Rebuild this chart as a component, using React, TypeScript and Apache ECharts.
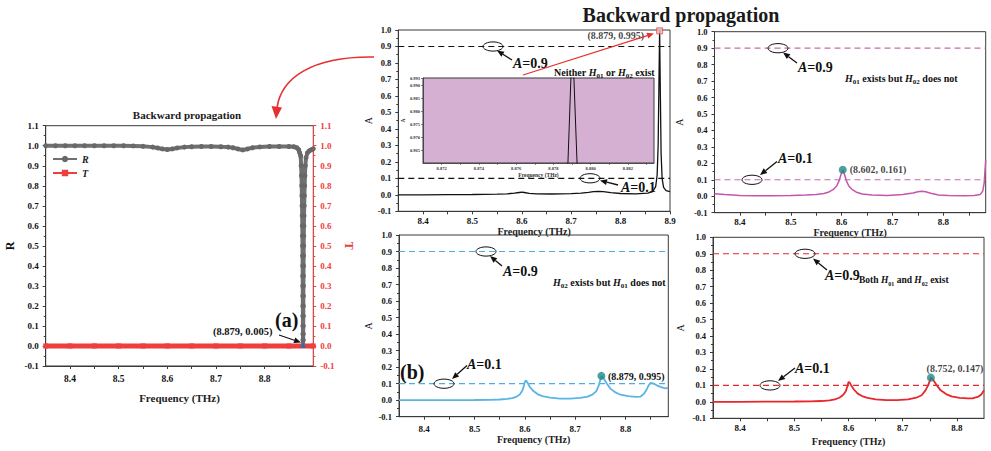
import React, { useEffect, useRef } from 'react';
import * as echarts from 'echarts';

const SERIF = "'Liberation Serif', 'Times New Roman', serif";
const AXIS = '#3a3a3a';
const INK = '#111111';

// (a) reflection R and transmission T, backward propagation
const rCurve: [number, number][] = [
  [8.35, 1.0], [8.37, 1.0], [8.39, 1.0], [8.41, 1.0], [8.43, 1.0], [8.45, 1.0], [8.47, 1.0],
  [8.49, 1.0], [8.51, 1.0], [8.53, 0.999], [8.55, 0.997], [8.57, 0.993], [8.58, 0.989],
  [8.59, 0.984], [8.6, 0.981], [8.61, 0.984], [8.62, 0.989], [8.635, 0.993], [8.65, 0.995],
  [8.67, 0.996], [8.69, 0.996], [8.71, 0.995], [8.725, 0.993], [8.735, 0.99], [8.745, 0.984],
  [8.755, 0.979], [8.765, 0.984], [8.775, 0.99], [8.79, 0.994], [8.81, 0.996], [8.83, 0.996],
  [8.85, 0.996], [8.86, 0.995], [8.866, 0.99], [8.87, 0.98], [8.872, 0.965], [8.874, 0.95],
  [8.875, 0.9], [8.8757, 0.85], [8.8762, 0.8], [8.8766, 0.75], [8.8769, 0.7], [8.8772, 0.65],
  [8.8774, 0.6], [8.8776, 0.55], [8.8778, 0.5], [8.8779, 0.45], [8.8781, 0.4], [8.8782, 0.35],
  [8.8783, 0.3], [8.8784, 0.25], [8.8785, 0.2], [8.8786, 0.15], [8.8787, 0.1], [8.8788, 0.06],
  [8.8789, 0.03], [8.879, 0.005], [8.8791, 0.03], [8.8792, 0.06], [8.8793, 0.1], [8.8794, 0.15],
  [8.8795, 0.2], [8.8796, 0.25], [8.8797, 0.3], [8.8798, 0.35], [8.88, 0.4], [8.8801, 0.45],
  [8.8803, 0.5], [8.8805, 0.55], [8.8807, 0.6], [8.881, 0.65], [8.8813, 0.7], [8.8817, 0.75],
  [8.8822, 0.8], [8.8828, 0.85], [8.8836, 0.9], [8.885, 0.94], [8.888, 0.965], [8.892, 0.975],
  [8.896, 0.98], [8.9, 0.985],
];
const tCurve: [number, number][] = [
  [8.35, 0], [8.4, 0], [8.45, 0], [8.5, 0], [8.55, 0], [8.6, 0], [8.65, 0], [8.7, 0],
  [8.75, 0], [8.8, 0], [8.85, 0], [8.9, 0],
];
const rMin: [number, number] = [8.879, 0.005];

// absorption A, neither H01 nor H02
const neitherCurve: [number, number][] = [
  [8.35, 0.0], [8.4, 0.0], [8.45, 0.001], [8.5, 0.002], [8.55, 0.004], [8.57, 0.006],
  [8.585, 0.01], [8.595, 0.014], [8.6, 0.016], [8.605, 0.014], [8.615, 0.009], [8.63, 0.006],
  [8.66, 0.005], [8.7, 0.007], [8.72, 0.01], [8.735, 0.015], [8.745, 0.019], [8.755, 0.021],
  [8.765, 0.019], [8.78, 0.013], [8.8, 0.008], [8.83, 0.006], [8.855, 0.01], [8.865, 0.02],
  [8.871, 0.05], [8.874, 0.12], [8.876, 0.3], [8.8775, 0.65], [8.879, 0.995], [8.8805, 0.6],
  [8.882, 0.25], [8.884, 0.1], [8.887, 0.045], [8.892, 0.025], [8.9, 0.02],
];
const neitherPeak: [number, number] = [8.879, 0.995];
// zoomed view around the absorption peak
const insetCurve: [number, number][] = [
  [8.8787, 0.955], [8.87878, 0.96], [8.87894, 0.993], [8.87902, 0.996], [8.8791, 0.993],
  [8.87927, 0.96], [8.8793, 0.955],
];

// H01 only
const h01Curve: [number, number][] = [
  [8.35, 0.015], [8.37, 0.01], [8.4, 0.005], [8.43, 0.003], [8.46, 0.003], [8.5, 0.004],
  [8.53, 0.007], [8.55, 0.011], [8.565, 0.017], [8.575, 0.026], [8.583, 0.04], [8.59, 0.062],
  [8.595, 0.095], [8.599, 0.135], [8.602, 0.161], [8.605, 0.138], [8.609, 0.095], [8.614, 0.062],
  [8.62, 0.042], [8.628, 0.026], [8.64, 0.014], [8.66, 0.007], [8.69, 0.005], [8.72, 0.01],
  [8.74, 0.02], [8.75, 0.027], [8.757, 0.031], [8.765, 0.027], [8.775, 0.018], [8.79, 0.008],
  [8.81, 0.004], [8.84, 0.003], [8.86, 0.004], [8.872, 0.01], [8.877, 0.03], [8.88, 0.08],
  [8.883, 0.22],
];
const h01Peak: [number, number] = [8.602, 0.161];

// H02 only
const h02Curve: [number, number][] = [
  [8.35, 0.0], [8.4, 0.0], [8.45, 0.0], [8.5, 0.001], [8.53, 0.002], [8.55, 0.004],
  [8.565, 0.008], [8.575, 0.013], [8.583, 0.02], [8.59, 0.035], [8.595, 0.058], [8.598, 0.085],
  [8.6, 0.11], [8.602, 0.12], [8.605, 0.108], [8.61, 0.08], [8.617, 0.055], [8.625, 0.037],
  [8.635, 0.025], [8.65, 0.015], [8.67, 0.01], [8.69, 0.01], [8.71, 0.014], [8.725, 0.022],
  [8.735, 0.035], [8.742, 0.055], [8.747, 0.09], [8.752, 0.147], [8.757, 0.13], [8.763, 0.1],
  [8.77, 0.07], [8.78, 0.047], [8.79, 0.033], [8.805, 0.024], [8.82, 0.02], [8.83, 0.022],
  [8.837, 0.04], [8.842, 0.065], [8.846, 0.09], [8.85, 0.105], [8.856, 0.1], [8.862, 0.09],
  [8.868, 0.082], [8.874, 0.076], [8.88, 0.072], [8.885, 0.075],
];
const h02Peak: [number, number] = [8.752, 0.147];
const h02PeakText = '(8.879, 0.995)';

// both H01 and H02
const bothCurve: [number, number][] = [
  [8.35, 0.0], [8.4, 0.0], [8.45, 0.001], [8.5, 0.002], [8.53, 0.003], [8.55, 0.005],
  [8.565, 0.009], [8.575, 0.015], [8.583, 0.025], [8.59, 0.042], [8.595, 0.065], [8.598, 0.095],
  [8.6, 0.12], [8.602, 0.118], [8.605, 0.1], [8.61, 0.075], [8.617, 0.05], [8.625, 0.035],
  [8.635, 0.024], [8.65, 0.015], [8.67, 0.01], [8.69, 0.01], [8.71, 0.015], [8.725, 0.025],
  [8.735, 0.04], [8.742, 0.07], [8.747, 0.1], [8.752, 0.147], [8.757, 0.13], [8.763, 0.1],
  [8.77, 0.07], [8.78, 0.047], [8.79, 0.033], [8.805, 0.024], [8.82, 0.021], [8.83, 0.022],
  [8.84, 0.032], [8.845, 0.045], [8.85, 0.07],
];
const bothPeak: [number, number] = [8.752, 0.147];

// absorption thresholds drawn as dashed guides in every A panel
const thresholds = [0.9, 0.1];
const freqStart = 8.35;
// right end of the frequency axis in panels (a), neither, H01, H02, both
const freqEnds = [8.9, 8.9, 8.883, 8.885, 8.85];

const isTenth = (v: number) => Math.abs(v * 10 - Math.round(v * 10)) < 1e-6;
const isEvenThousandth = (v: number) => Math.round(v * 1000) % 2 === 0;
const pointText = (p: [number, number]) => `(${p[0].toFixed(3)}, ${p[1].toFixed(3)})`;

type FreqOpts = { fontSize: number; margin: number; nameGap: number; nameSize: number; showMax?: boolean };

// tick labels are drawn through a rich token so that the serif bold face is used
function tickLabel(fontSize: number, color: string, margin: number, formatter: (v: number) => string) {
  return {
    margin, color, fontFamily: SERIF, fontWeight: 'bold', fontSize,
    formatter: (v: number) => {
      const s = formatter(v);
      return s ? `{t|${s}}` : '';
    },
    rich: { t: { fontFamily: SERIF, fontWeight: 'bold', fontSize, color } },
  };
}

function freqAxis(gridIndex: number, o: FreqOpts) {
  return {
    type: 'value', gridIndex, min: freqStart, max: freqEnds[gridIndex], interval: 0.05,
    axisLine: { show: true, onZero: false, lineStyle: { color: AXIS, width: 1 } },
    axisTick: { show: true, length: 3, lineStyle: { color: AXIS } },
    splitLine: { show: false },
    axisLabel: {
      showMinLabel: false, showMaxLabel: !!o.showMax,
      ...tickLabel(o.fontSize, INK, o.margin, (v) => (isTenth(v) ? v.toFixed(1) : '')),
    },
    name: 'Frequency (THz)', nameLocation: 'middle', nameGap: o.nameGap,
    nameTextStyle: { fontFamily: SERIF, fontWeight: 'bold', fontSize: o.nameSize, color: '#222' },
  };
}

function valueAxis(gridIndex: number, max: number, name: string, nameGap: number, color: string, fontSize: number, extra: any = {}) {
  const textColor = color === AXIS ? INK : color;
  return {
    type: 'value', gridIndex, min: -0.1, max, interval: 0.1,
    axisLine: { show: true, onZero: false, lineStyle: { color, width: 1 } },
    axisTick: { show: true, length: 3, lineStyle: { color } },
    minorTick: { show: true, splitNumber: 2, length: 2, lineStyle: { color } },
    splitLine: { show: false }, minorSplitLine: { show: false },
    axisLabel: tickLabel(fontSize, textColor, 7, (v) => v.toFixed(1)),
    name, nameLocation: 'middle', nameGap, nameRotate: 90,
    nameTextStyle: { fontFamily: SERIF, fontSize: name === 'A' ? 10 : 12, fontWeight: name === 'A' ? 'normal' : 'bold', color: textColor },
    ...extra,
  };
}

// one dashed horizontal guide per threshold, spanning the panel's frequency range
function levelSeries(axis: number, color: string) {
  return thresholds.map((level) => ({
    type: 'line', name: `level-${axis}-${level}`, xAxisIndex: axis, yAxisIndex: axis + 1,
    data: [[freqStart, level], [freqEnds[axis], level]],
    showSymbol: false, silent: true, z: 2,
    lineStyle: { type: [6, 4], color, width: 1.1 },
    itemStyle: { color },
  }));
}

function curve(name: string, data: [number, number][], axis: number, color: string, width: number) {
  return {
    type: 'line', name, xAxisIndex: axis, yAxisIndex: axis + 1, data,
    showSymbol: false, clip: true, z: 3,
    lineStyle: { color, width },
    itemStyle: { color },
  };
}

function peakMarker(p: [number, number], axis: number, label: any, symbol = 'circle', size = 8, style: any = { color: '#1d8a87' }) {
  return {
    type: 'scatter', xAxisIndex: axis, yAxisIndex: axis + 1, data: [p], symbol, symbolSize: size, z: 6,
    itemStyle: style,
    label: label
      ? {
          show: true, formatter: () => `{p|${pointText(p)}}`,
          rich: { p: { fontFamily: SERIF, fontWeight: 'bold', fontSize: 10, color: INK } },
          ...label,
        }
      : { show: false },
  };
}

function richStyles(size: number) {
  const base = { fontFamily: SERIF, fontWeight: 'bold', fontSize: size, fill: INK, lineHeight: size + 4, verticalAlign: 'middle' };
  return {
    b: base,
    i: { ...base, fontStyle: 'italic' },
    s: { fontFamily: SERIF, fontWeight: 'bold', fontSize: Math.round(size * 0.65), fill: INK, verticalAlign: 'bottom' },
  };
}

function richText(x: number, y: number, text: string, size: number, align = 'left') {
  return {
    type: 'text', x, y, z: 100,
    style: { text, rich: richStyles(size), align, verticalAlign: 'middle', fill: INK, fontFamily: SERIF, fontSize: size, fontWeight: 'bold' },
  };
}

function plainText(x: number, y: number, text: string, size: number, align = 'left', fill = INK) {
  return {
    type: 'text', x, y, z: 100,
    style: { text, align, verticalAlign: 'middle', fill, fontFamily: SERIF, fontSize: size, fontWeight: 'bold' },
  };
}

function arrow(x1: number, y1: number, x2: number, y2: number, color = INK, width = 1.3, head = 7) {
  const a = Math.atan2(y2 - y1, x2 - x1);
  const bx = x2 - head * Math.cos(a);
  const by = y2 - head * Math.sin(a);
  const w = head * 0.42;
  const px = -Math.sin(a) * w;
  const py = Math.cos(a) * w;
  return [
    { type: 'line', z: 100, shape: { x1, y1, x2: bx, y2: by }, style: { stroke: color, lineWidth: width } },
    { type: 'polygon', z: 100, shape: { points: [[x2, y2], [bx + px, by + py], [bx - px, by - py]] }, style: { fill: color } },
  ];
}

function ring(cx: number, cy: number) {
  return { type: 'ellipse', z: 100, shape: { cx, cy, rx: 10, ry: 4.6 }, style: { fill: 'none', stroke: INK, lineWidth: 1 } };
}

const levelText = (v: number) => `{i|A}{b|=${v.toFixed(1)}}`;

function buildOption() {
  const grids = [
    { left: 45.7, top: 125.7, width: 267.6, height: 240.3 },
    { left: 398.3, top: 30, width: 271.7, height: 181.3 },
    { left: 714.5, top: 31.7, width: 271.2, height: 181 },
    { left: 399, top: 235, width: 269.3, height: 181.7 },
    { left: 713, top: 237.3, width: 271, height: 181 },
  ].map((g) => ({ ...g, show: true, borderColor: AXIS, borderWidth: 1, backgroundColor: 'transparent' }));
  grids.push({ left: 423, top: 78, width: 231, height: 85, show: true, borderColor: AXIS, borderWidth: 1, backgroundColor: '#d5b0d3' } as any);

  const red = '#ee3e3e';
  const rData = rCurve.map(([f, v]) =>
    f === rMin[0] && v === rMin[1]
      ? { value: [f, v], symbol: 'triangle', symbolSize: 6, itemStyle: { color: '#3f66a8' } }
      : [f, v]
  );

  const graphic: any[] = [
    plainText(681, 15, 'Backward propagation', 20, 'center', '#1a1a1a'),
    plainText(187, 115, 'Backward propagation', 11, 'center', '#1a1a1a'),
    // curved pointer from the spectrum panels to panel (a)
    {
      type: 'bezierCurve', z: 100,
      shape: { x1: 374, y1: 57, cpx1: 312, cpy1: 56, cpx2: 281, cpy2: 78, x2: 277, y2: 108 },
      style: { stroke: '#e53030', lineWidth: 1.6, fill: 'none' },
    },
    { type: 'polygon', z: 100, shape: { points: [[276, 119], [271.5, 106], [282, 107.5]] }, style: { fill: '#e53030' } },
    // panel (a)
    plainText(275, 320, '(a)', 20),
    plainText(213, 331, pointText(rMin), 10.5),
    ...arrow(279, 335, 301, 342.5),
    // neither
    ring(493, 46.5), ...arrow(512, 60, 497, 50.5), richText(513, 63, levelText(0.9), 14),
    ring(590, 178.3), ...arrow(618, 185, 600, 180.5), richText(621, 187, levelText(0.1), 14),
    ...arrow(523, 75, 654, 33.5, '#e53030', 1.2, 7),
    richText(554, 72, '{b|Neither }{i|H}{s|01}{b| or }{i|H}{s|02}{b| exist}', 10),
    // H01 only
    ring(778, 48.2), ...arrow(797, 63, 783, 52.5), richText(798, 67, levelText(0.9), 14),
    ring(752, 179.8), ...arrow(777, 161.5, 760, 175), richText(778, 158, levelText(0.1), 14),
    richText(845, 78, '{i|H}{s|01}{b| exists but }{i|H}{s|02}{b| does not}', 10),
    // H02 only
    ring(486, 251.5), ...arrow(502, 266, 490, 256), richText(503, 271, levelText(0.9), 14),
    ring(444, 383.7), ...arrow(467, 365.5, 452, 379), richText(467, 364, levelText(0.1), 14),
    richText(553, 282, '{i|H}{s|02}{b| exists but }{i|H}{s|01}{b| does not}', 10),
    plainText(400, 372, '(b)', 20),
    plainText(608, 376, h02PeakText, 10),
    // both
    ring(805, 253.8), ...arrow(827, 270, 813, 258.5), richText(825, 275, levelText(0.9), 14),
    ring(770, 385.4), ...arrow(795, 368, 778, 381), richText(795, 368, levelText(0.1), 14),
    richText(859, 280, '{b|Both }{i|H}{s|01}{b| and }{i|H}{s|02}{b| exist}', 9.5),
  ];

  return {
    animation: false,
    backgroundColor: '#ffffff',
    textStyle: { fontFamily: SERIF, fontWeight: 'bold' },
    grid: grids,
    legend: {
      data: ['R', 'T'], orient: 'vertical', left: 52, top: 154, itemWidth: 24, itemHeight: 8, itemGap: 4,
      padding: 0, selectedMode: false,
      textStyle: { fontFamily: SERIF, fontStyle: 'italic', fontWeight: 'bold', fontSize: 10, color: '#222' },
    },
    xAxis: [
      freqAxis(0, { fontSize: 9.5, margin: 8, nameGap: 26, nameSize: 11 }),
      freqAxis(1, { fontSize: 9, margin: 5, nameGap: 13, nameSize: 10, showMax: true }),
      freqAxis(2, { fontSize: 9, margin: 5, nameGap: 14, nameSize: 10 }),
      freqAxis(3, { fontSize: 9, margin: 8, nameGap: 17, nameSize: 10 }),
      freqAxis(4, { fontSize: 9, margin: 5, nameGap: 18, nameSize: 10 }),
      {
        type: 'value', gridIndex: 5, min: 8.871, max: 8.8834, interval: 0.001,
        axisLine: { show: true, onZero: false, lineStyle: { color: AXIS, width: 0.8 } },
        axisTick: { show: true, length: 2, lineStyle: { color: AXIS, width: 0.6 } },
        splitLine: { show: false },
        axisLabel: {
          showMinLabel: false, showMaxLabel: false,
          ...tickLabel(4.5, '#333', 3, (v) => (isEvenThousandth(v) ? v.toFixed(3) : '')),
        },
        name: 'Frequency (THz)', nameLocation: 'middle', nameGap: 8,
        nameTextStyle: { fontFamily: SERIF, fontWeight: 'bold', fontSize: 5.5, color: '#333' },
      },
    ],
    yAxis: [
      valueAxis(0, 1.1, 'R', 30, AXIS, 9),
      valueAxis(0, 1.1, 'T', 30, red, 9, { position: 'right', nameRotate: -90 }),
      valueAxis(1, 1.0, 'A', 25, AXIS, 8.5),
      valueAxis(2, 1.0, 'A', 30, AXIS, 8.5),
      valueAxis(3, 1.0, 'A', 26, AXIS, 8.5),
      valueAxis(4, 1.0, 'A', 28, AXIS, 8.5),
      {
        type: 'value', gridIndex: 5, min: 0.96, max: 0.993, interval: 0.005,
        axisLine: { show: true, onZero: false, lineStyle: { color: AXIS, width: 0.8 } },
        axisTick: { show: true, length: 2, lineStyle: { color: AXIS, width: 0.6 } },
        splitLine: { show: false },
        axisLabel: { showMinLabel: false, ...tickLabel(4.5, '#333', 3, (v) => v.toFixed(3)) },
        name: 'A', nameLocation: 'middle', nameGap: 17, nameRotate: 90,
        nameTextStyle: { fontFamily: SERIF, fontSize: 5.5, color: '#333' },
      },
    ],
    series: [
      {
        type: 'line', name: 'T', xAxisIndex: 0, yAxisIndex: 1, data: tCurve, z: 2,
        symbol: 'rect', symbolSize: 5, showSymbol: true,
        lineStyle: { color: red, width: 5 }, itemStyle: { color: red },
      },
      {
        type: 'line', name: 'R', xAxisIndex: 0, yAxisIndex: 0, data: rData, z: 3,
        symbol: 'circle', symbolSize: 5, showSymbol: true,
        lineStyle: { color: '#707070', width: 4 }, itemStyle: { color: '#686868' },
      },
      ...levelSeries(1, '#111111'),
      ...levelSeries(2, '#c86aa8'),
      ...levelSeries(3, '#4fade3'),
      ...levelSeries(4, '#e3282c'),
      curve('neither', neitherCurve, 1, '#111111', 1.3),
      curve('h01', h01Curve, 2, '#c455ad', 1.5),
      curve('h02', h02Curve, 3, '#5ab4e6', 1.8),
      curve('both', bothCurve, 4, '#e8262b', 1.8),
      {
        type: 'line', name: 'inset', xAxisIndex: 5, yAxisIndex: 6, data: insetCurve, z: 3,
        showSymbol: false, clip: true, lineStyle: { color: '#111', width: 1 },
      },
      peakMarker(neitherPeak, 1, { position: 'left', distance: 12, offset: [0, 5] }, 'rect', 6, { color: '#f4b8b8', borderColor: '#e55050', borderWidth: 1 }),
      peakMarker(h01Peak, 2, { position: 'right', distance: 3 }),
      peakMarker(h02Peak, 3, null),
      peakMarker(bothPeak, 4, { position: 'top', distance: 0, offset: [24, 0] }),
    ],
    graphic,
  };
}

export default function App() {
  const ref = useRef<HTMLDivElement>(null);
  useEffect(() => {
    if (!ref.current) return;
    const chart = echarts.init(ref.current, null, { renderer: 'svg' });
    chart.setOption(buildOption() as any);
    return () => chart.dispose();
  }, []);
  return (
    <div
      ref={ref}
      style={{ position: 'absolute', left: 0, top: 0, width: 991, height: 451, background: '#fff' }}
    />
  );
}
